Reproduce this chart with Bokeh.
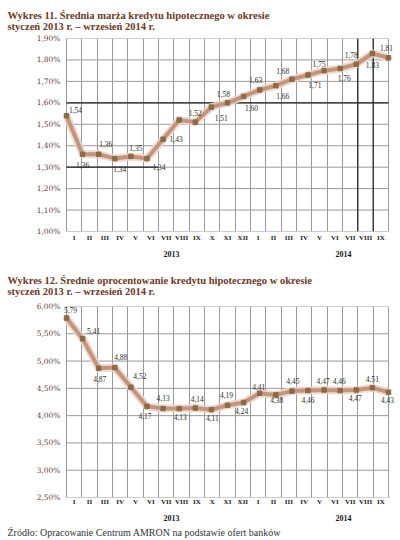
from bokeh.plotting import figure
from bokeh.models import (Range1d, LinearAxis, FixedTicker, Grid, ColumnDataSource,
                          LabelSet, Title)
from bokeh.layouts import column
from bokeh.embed import file_html
from bokeh.resources import INLINE

# ---------------- data ----------------
months = ["I", "II", "III", "IV", "V", "VI", "VII", "VIII", "IX", "X", "XI", "XII",
          "I", "II", "III", "IV", "V", "VI", "VII", "VIII", "IX"]
years = ["2013", "2014"]

margin_values = [1.54, 1.36, 1.36, 1.34, 1.35, 1.34, 1.43, 1.52, 1.51, 1.58, 1.60,
                 1.63, 1.66, 1.68, 1.71, 1.73, 1.75, 1.76, 1.78, 1.83, 1.81]
margin_shown = [1] * 15 + [0] + [1] * 5
margin_ticks = [1.00, 1.10, 1.20, 1.30, 1.40, 1.50, 1.60, 1.70, 1.80, 1.90]

rate_values = [5.79, 5.41, 4.87, 4.88, 4.52, 4.17, 4.13, 4.13, 4.14, 4.11, 4.19,
               4.24, 4.41, 4.38, 4.45, 4.46, 4.47, 4.46, 4.47, 4.51, 4.43]
rate_shown = [1] * 21
rate_ticks = [2.50, 3.00, 3.50, 4.00, 4.50, 5.00, 5.50, 6.00]

title11 = ["Wykres 11. Średnia marża kredytu hipotecznego w okresie",
           "styczeń 2013 r. – wrzesień 2014 r."]
title12 = ["Wykres 12. Średnie oprocentowanie kredytu hipotecznego w okresie",
           "styczeń 2013 r. – wrzesień 2014 r."]
source_text = "Źródło: Opracowanie Centrum AMRON na podstawie ofert banków"

# ---------------- styles ----------------
m_dx = [9, 0, 7, 5, 5, 12, 13, 16, 26, 12, 24, 12, 23, 7, 23, 0, -5, 4, -5, 0, -2]
m_dy = [-6, 11, -10, 10, -8, 8, 0, -7, -4, -13, 5, -16, 6, -15, 6, 0, -7, 9, -9, 11, -10]
r_dx = [4, 11, 1, 6, 9, -2, 0, 1, 2, 1, -1, -2, -1, 1, 1, 0, -1, -1, -1, 0, -1]
r_dy = [-8, -8, 11, -11, -11, 10, -11, 8, -9, 8, -10, 8, -6, 5, -10, 9, -9, -10, 8, -9, 8]
year_pos = [6.85, 18.07]

W = 400
FRAME_L, FRAME_R = 61, 398      # drawing frame (wider than the grid box so labels are not clipped)
BOX_L, BOX_R = 66, 388          # visible grid box
TITLE_X = 7

TITLE_COLOR = "#6b3a2b"
GRID = "#999999"
DARK = "#1e1e1e"
SERIF = "Liberation Serif"
NUM = "DejaVu Serif"


def fmt(v):
    return ("%.2f" % v).replace(".", ",")


def no_ticks(ax):
    ax.axis_line_color = None
    ax.major_tick_line_color = None
    ax.minor_tick_line_color = None
    ax.major_tick_out = 0
    ax.major_tick_in = 0
    ax.minor_tick_out = 0
    ax.minor_tick_in = 0


def make_chart(titles, values, shown, ticks, dx, dy, height, top, bottom,
               t_stand, m_stand, y_stand, foot, foot_size, foot_stand, dark=None):
    n = len(values)
    box_w = BOX_R - BOX_L
    u_pts = box_w / (n - 1)
    u_cat = box_w / n
    x_range = Range1d(-(BOX_L - FRAME_L) / u_pts, (n - 1) + (FRAME_R - BOX_R) / u_pts)
    cat_range = Range1d(-(BOX_L - FRAME_L) / u_cat, n + (FRAME_R - BOX_R) / u_cat)

    p = figure(width=W, height=height, output_backend="svg",
               toolbar_location=None, x_axis_location=None,
               x_range=x_range, y_range=Range1d(ticks[0], ticks[-1]),
               min_border_left=FRAME_L, min_border_right=W - FRAME_R,
               min_border_top=top, min_border_bottom=bottom)
    p.extra_x_ranges = {"cat": cat_range}
    p.background_fill_color = "white"
    p.border_fill_color = "white"
    p.outline_line_color = None
    p.xgrid.visible = False
    p.ygrid.visible = False

    # y axis
    p.yaxis.ticker = FixedTicker(ticks=list(ticks))
    p.yaxis.major_label_overrides = {t: fmt(t) + "%" for t in ticks}
    no_ticks(p.yaxis[0])
    p.yaxis.major_label_standoff = 1
    p.yaxis.major_label_text_font = NUM
    p.yaxis.major_label_text_font_size = "7.5px"
    p.yaxis.major_label_text_color = "#5e3c3c"

    # horizontal grid lines, limited to the box
    p.segment(x0=[0] * len(ticks), x1=[n - 1] * len(ticks), y0=ticks, y1=ticks,
              line_color=GRID, line_width=1)
    # vertical grid on category boundaries (including box edges)
    p.add_layout(Grid(dimension=0, x_range_name="cat",
                      ticker=FixedTicker(ticks=list(range(0, n + 1))),
                      grid_line_color=GRID))
    if dark:
        nv = len(dark["v"])
        p.segment(x0=dark["v"], x1=dark["v"], y0=[ticks[0]] * nv, y1=[ticks[-1]] * nv,
                  x_range_name="cat", line_color=DARK, line_width=1.2)
        p.segment(x0=[0], x1=[n - 1], y0=dark["h"], y1=dark["h"],
                  line_color=DARK, line_width=1.2)
        p.segment(x0=[0], x1=[dark["seg"][1]], y0=[dark["seg"][0]], y1=[dark["seg"][0]],
                  x_range_name="cat", line_color=DARK, line_width=1.2)

    # month axis
    centers = [i + 0.5 for i in range(n)]
    ax_m = LinearAxis(x_range_name="cat", ticker=FixedTicker(ticks=centers),
                      major_label_overrides={c: m for c, m in zip(centers, months)})
    no_ticks(ax_m)
    ax_m.major_label_standoff = m_stand
    ax_m.major_label_text_font = SERIF
    ax_m.major_label_text_font_style = "bold"
    ax_m.major_label_text_font_size = "7px"
    ax_m.major_label_text_color = "#1a1a1a"
    p.add_layout(ax_m, "below")

    # year axis
    ax_y = LinearAxis(x_range_name="cat", ticker=FixedTicker(ticks=list(year_pos)),
                      major_label_overrides={c: y for c, y in zip(year_pos, years)})
    no_ticks(ax_y)
    ax_y.major_label_standoff = y_stand
    ax_y.major_label_text_font = SERIF
    ax_y.major_label_text_font_style = "bold"
    ax_y.major_label_text_font_size = "8px"
    ax_y.major_label_text_color = "#1a1a1a"
    p.add_layout(ax_y, "below")

    # footer line under the year labels
    if foot:
        p.add_layout(Title(text=foot, align="left", offset=TITLE_X - FRAME_L,
                           standoff=foot_stand, text_font=SERIF, text_font_style="normal",
                           text_font_size=foot_size, text_color="#333333"), "below")

    # series
    idx = list(range(n))
    src = ColumnDataSource(dict(x=idx, y=values))
    p.line("x", "y", source=src, line_color="#ead5ca", line_width=8, line_alpha=0.85,
           line_join="round")
    p.line("x", "y", source=src, line_color="#c4957e", line_width=4, line_join="round")
    p.scatter("x", "y", source=src, marker="square", size=4.5,
              fill_color="#8c6a48", line_color="#8c6a48")

    # value labels (only for labelled points)
    keep = [i for i in idx if shown[i]]
    lsrc = ColumnDataSource(dict(
        x=[idx[i] for i in keep], y=[values[i] for i in keep],
        lbl=[fmt(values[i]) for i in keep],
        dx=[dx[i] for i in keep], dy=[-dy[i] for i in keep]))
    p.add_layout(LabelSet(x="x", y="y", text="lbl", source=lsrc,
                          x_offset="dx", y_offset="dy",
                          text_align="center", text_baseline="middle",
                          text_font=NUM, text_font_size="7.5px",
                          text_color="#2e2e2e"))

    # two-line title
    p.add_layout(Title(text="\n".join(titles), align="left", offset=TITLE_X - FRAME_L,
                       standoff=t_stand, text_font=SERIF, text_font_style="bold",
                       text_font_size="10.5px", text_color=TITLE_COLOR,
                       text_line_height=1.0), "above")
    return p


p1 = make_chart(title11, margin_values, margin_shown, margin_ticks, m_dx, m_dy,
                height=262, top=38, bottom=31, t_stand=13, m_stand=2, y_stand=6,
                foot=None, foot_size=None, foot_stand=0,
                dark={"v": [19, 20], "h": [1.60], "seg": (1.30, 6)})
p2 = make_chart(title12, rate_values, rate_shown, rate_ticks, r_dx, r_dy,
                height=278, top=41, bottom=43, t_stand=20, m_stand=0, y_stand=6,
                foot=source_text, foot_size="10px", foot_stand=2)

layout = column(p1, p2, spacing=0)
open("out.html", "w").write(file_html(layout, INLINE))
